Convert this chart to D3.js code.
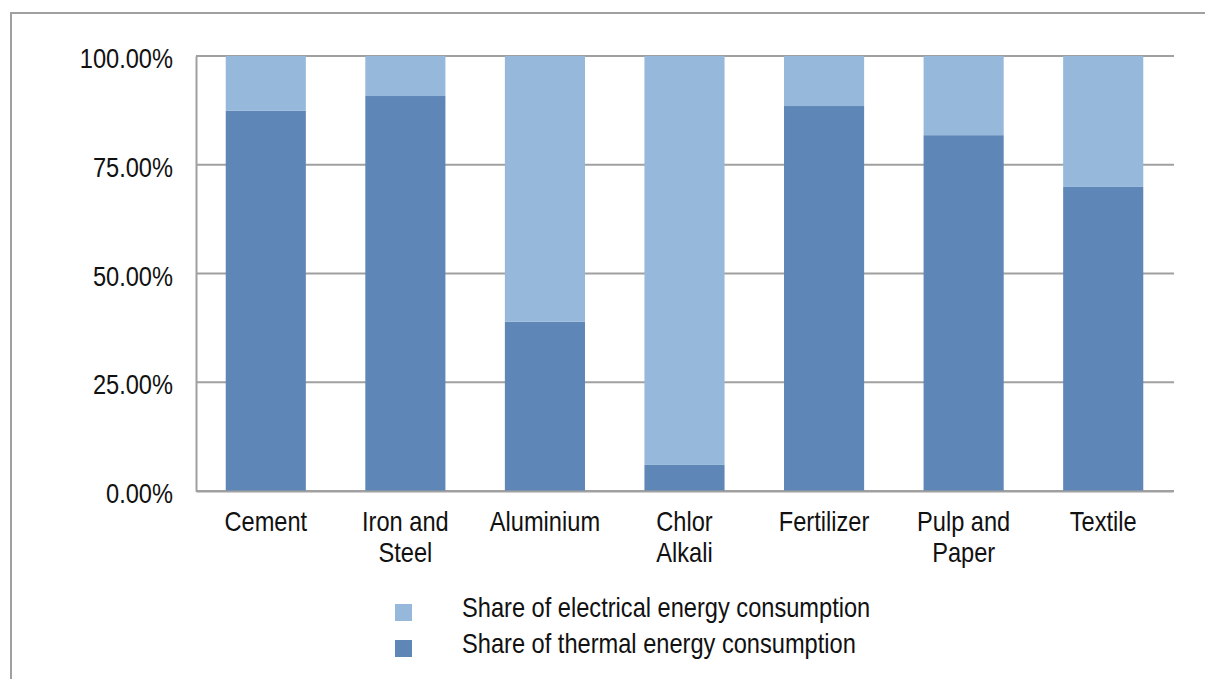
<!DOCTYPE html>
<html>
<head>
<meta charset="utf-8">
<script src="https://cdn.jsdelivr.net/npm/d3@7"></script>
<style>
  body { margin: 0; background: #fff; }
  svg text { font-family: "Liberation Sans", Arial, sans-serif; fill: #111; }
</style>
</head>
<body>
<div id="chart"></div>
<script>
// Data
const sectors = ['Cement', 'Iron and Steel', 'Aluminium', 'Chlor Alkali', 'Fertilizer', 'Pulp and Paper', 'Textile'];
const sectorLines = [['Cement'], ['Iron and', 'Steel'], ['Aluminium'], ['Chlor', 'Alkali'], ['Fertilizer'], ['Pulp and', 'Paper'], ['Textile']];
const thermalShare = [0.874, 0.908, 0.389, 0.060, 0.885, 0.818, 0.699];
const electricalShare = thermalShare.map(v => 1 - v);
const yTicks = [0, 0.25, 0.5, 0.75, 1];
const seriesNames = ['Share of electrical energy consumption', 'Share of thermal energy consumption'];
const seriesColors = ['#95b8db', '#5e86b7'];

const width = 1205;
const height = 679;
const margin = { top: 56, right: 32, bottom: 188, left: 196 };
const innerW = width - margin.left - margin.right;
const innerH = height - margin.top - margin.bottom;

// condensed look: squeeze the text horizontally
const squeeze = 0.875;
const fontSize = '27px';

const root = d3.select('#chart')
  .append('svg')
  .attr('width', width)
  .attr('height', height);

// outer frame (only top and left edges fall inside the picture)
root.append('path')
  .attr('d', `M11,${height} V13 H${width}`)
  .attr('fill', 'none')
  .attr('stroke', '#a0a0a0')
  .attr('stroke-width', 2);

const svg = root.append('g')
  .attr('transform', `translate(${margin.left},${margin.top})`);

const x = d3.scaleBand()
  .domain(sectors)
  .range([0, innerW])
  .paddingInner(0.426)
  .paddingOuter(0.213);

const y = d3.scaleLinear()
  .domain([0, 1])
  .range([innerH, 0]);

// gridlines
svg.append('g')
  .selectAll('line')
  .data(yTicks)
  .enter().append('line')
  .attr('x1', 0)
  .attr('x2', innerW + 1)
  .attr('y1', d => y(d))
  .attr('y2', d => y(d))
  .attr('stroke', '#a0a0a0')
  .attr('stroke-width', 2);

// stacked bars
const rows = sectors.map((s, i) => ({ sector: s, thermal: thermalShare[i], electrical: electricalShare[i] }));
const stack = d3.stack().keys(['thermal', 'electrical'])(rows);
const colorFor = { thermal: seriesColors[1], electrical: seriesColors[0] };

svg.selectAll('.layer')
  .data(stack)
  .enter().append('g')
  .attr('class', 'layer')
  .attr('fill', d => colorFor[d.key])
  .selectAll('rect')
  .data(d => d)
  .enter().append('rect')
  .attr('x', d => x(d.data.sector))
  .attr('y', d => y(d[1]))
  .attr('width', x.bandwidth())
  .attr('height', d => y(d[0]) - y(d[1]));

// y axis
const yAxis = svg.append('g')
  .call(d3.axisLeft(y).tickValues(yTicks).tickSize(0).tickPadding(23)
    .tickFormat(d => (d * 100).toFixed(2) + '%'));
yAxis.select('.domain').attr('stroke', '#a0a0a0').attr('stroke-width', 2);
yAxis.selectAll('text')
  .style('font-size', fontSize)
  .attr('x', 0)
  .attr('dy', '0.43em')
  .attr('transform', `translate(-23,0) scale(${squeeze},1)`);

// x axis
const xAxis = svg.append('g')
  .attr('transform', `translate(0,${innerH})`)
  .call(d3.axisBottom(x).tickSize(0).tickFormat(''));
xAxis.select('.domain').attr('stroke', '#a0a0a0').attr('stroke-width', 2);

xAxis.selectAll('.tick')
  .append('text')
  .attr('text-anchor', 'middle')
  .attr('transform', `scale(${squeeze},1)`)
  .style('font-size', fontSize)
  .selectAll('tspan')
  .data((d, i) => sectorLines[i])
  .enter().append('tspan')
  .attr('x', 0)
  .attr('y', (d, i) => 40 + i * 31)
  .text(d => d);

// legend
const legend = root.append('g')
  .attr('transform', 'translate(395,604)');

const item = legend.selectAll('g')
  .data(seriesNames)
  .enter().append('g')
  .attr('transform', (d, i) => `translate(0,${i * 36})`);

item.append('rect')
  .attr('width', 17)
  .attr('height', 17)
  .attr('fill', (d, i) => seriesColors[i]);

item.append('text')
  .attr('transform', `translate(67,13) scale(${squeeze},1)`)
  .style('font-size', fontSize)
  .text(d => d);
</script>
</body>
</html>
